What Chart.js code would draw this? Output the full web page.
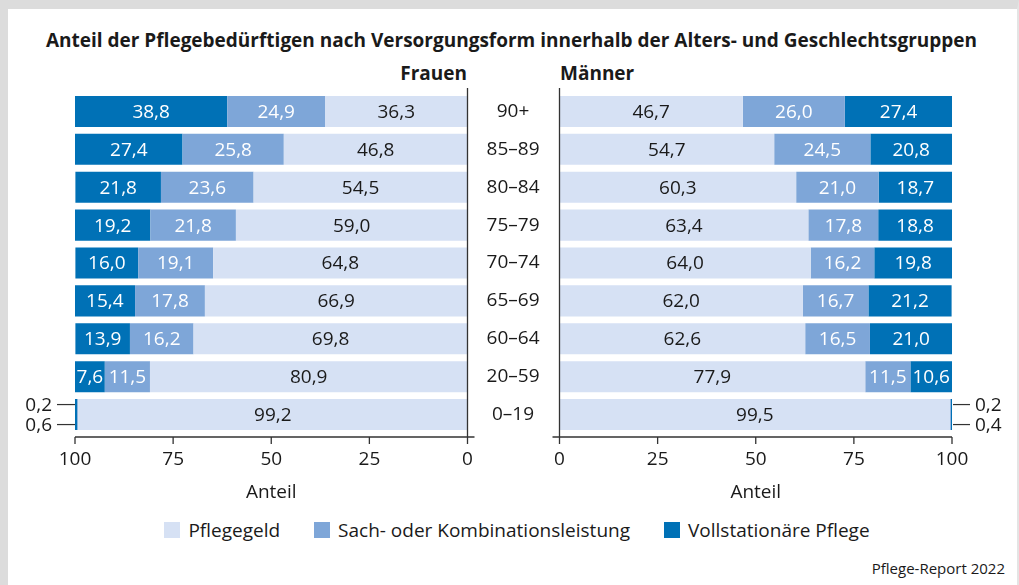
<!DOCTYPE html>
<html lang="de">
<head>
<meta charset="utf-8">
<script src="https://cdn.jsdelivr.net/npm/chart.js@4"></script>
<style>
  body { margin: 0; width: 1019px; height: 585px; position: relative; background: #fff; font-family: "Open Sans", "Noto Sans", sans-serif; color: #1a1a1a; overflow: hidden; }
  .frame { position: absolute; left: 0; top: 0; width: 1019px; height: 585px; box-sizing: border-box; border-top: 9px solid #dcdcdc; border-left: 8px solid #dcdcdc; border-right: 2px solid #e4e4e4; }
  canvas { position: absolute; top: 0; }
  #chartF { left: 0; }
  #chartM { left: 468px; }
  .title { position: absolute; left: 8px; width: 1007px; top: 28px; text-align: center; font-weight: 700; font-size: 19px; line-height: 24px; }
  .group { position: absolute; top: 61px; font-weight: 700; font-size: 19px; line-height: 24px; }
  #lblF { right: calc(1019px - 467px); }
  #lblM { left: 560px; }
  .legend { position: absolute; left: 0; width: 1034px; top: 518px; display: flex; justify-content: center; gap: 34px; font-size: 19px; line-height: 24px; }
  .legend span.item { display: flex; align-items: center; gap: 8px; }
  .legend i { display: inline-block; width: 16px; height: 16px; }
  .source { position: absolute; right: 14px; top: 558px; font-size: 15px; line-height: 20px; }
</style>
</head>
<body>
<div class="frame"></div>
<div class="title">Anteil der Pflegebedürftigen nach Versorgungsform innerhalb der Alters- und Geschlechtsgruppen</div>
<div class="group" id="lblF">Frauen</div>
<div class="group" id="lblM">Männer</div>
<canvas id="chartF" width="500" height="510"></canvas>
<canvas id="chartM" width="551" height="510"></canvas>
<div class="legend" id="legend"></div>
<div class="source">Pflege-Report 2022</div>
<script>
const ageGroups = ['90+', '85–89', '80–84', '75–79', '70–74', '65–69', '60–64', '20–59', '0–19'];
const seriesNames = ['Pflegegeld', 'Sach- oder Kombinationsleistung', 'Vollstationäre Pflege'];
const seriesColors = ['#d6e1f4', '#7ea6d8', '#0071b6'];

// Frauen
const frauenGeld = [36.3, 46.8, 54.5, 59.0, 64.8, 66.9, 69.8, 80.9, 99.2];
const frauenSach = [24.9, 25.8, 23.6, 21.8, 19.1, 17.8, 16.2, 11.5, 0.2];
const frauenVoll = [38.8, 27.4, 21.8, 19.2, 16.0, 15.4, 13.9, 7.6, 0.6];

// Männer
const maennerGeld = [46.7, 54.7, 60.3, 63.4, 64.0, 62.0, 62.6, 77.9, 99.5];
const maennerSach = [26.0, 24.5, 21.0, 17.8, 16.2, 16.7, 16.5, 11.5, 0.2];
const maennerVoll = [27.4, 20.8, 18.7, 18.8, 19.8, 21.2, 21.0, 10.6, 0.4];

const xTicks = [0, 25, 50, 75, 100];

const FONT = '"Open Sans", "Noto Sans", sans-serif';
const TEXT = '#1a1a1a';
const LINE = '#333';

const fmt = v => v.toFixed(1).replace('.', ',');

// axis lines, ticks and value labels
const decorations = {
    id: 'decorations',
    afterDatasetsDraw(chart) {
        const { ctx, scales: { x } } = chart;
        const side = chart.options.plugins.decorations.side;
        ctx.save();
        ctx.font = '19px ' + FONT;
        ctx.textBaseline = 'middle';
        chart.data.datasets.forEach((ds, i) => {
            const meta = chart.getDatasetMeta(i);
            meta.data.forEach((bar, j) => {
                const v = ds.data[j];
                if (v >= 3) {
                    ctx.fillStyle = i === 0 ? TEXT : '#fff';
                    ctx.textAlign = 'center';
                    ctx.fillText(fmt(v), (bar.x + bar.base) / 2, bar.y + 1);
                } else {
                    // small shares: callout outside the bar end
                    const edge = x.getPixelForValue(100);
                    const y = bar.y + (i === 1 ? -10 : 10);
                    ctx.strokeStyle = LINE;
                    ctx.lineWidth = 1.2;
                    ctx.beginPath();
                    if (side === 'left') {
                        ctx.moveTo(edge - 18, y); ctx.lineTo(edge, y);
                        ctx.stroke();
                        ctx.textAlign = 'right';
                        ctx.fillStyle = TEXT;
                        ctx.fillText(fmt(v), edge - 23, y + 1);
                    } else {
                        ctx.moveTo(edge + 1, y); ctx.lineTo(edge + 18, y);
                        ctx.stroke();
                        ctx.textAlign = 'left';
                        ctx.fillStyle = TEXT;
                        ctx.fillText(fmt(v), edge + 23, y + 1);
                    }
                }
            });
        });
        ctx.restore();
    },
    afterDraw(chart) {
        const { ctx, chartArea: a, scales: { x } } = chart;
        const side = chart.options.plugins.decorations.side;
        const x0 = x.getPixelForValue(0);
        const yb = a.bottom + 3.5;
        ctx.save();
        ctx.strokeStyle = LINE;
        ctx.lineWidth = 1.3;
        ctx.beginPath();
        ctx.moveTo(x0, a.top - 4.5);
        ctx.lineTo(x0, yb + 7);
        ctx.moveTo(x.getPixelForValue(100), yb);
        ctx.lineTo(x0 + (side === 'left' ? 7 : -7), yb);
        x.ticks.forEach(t => {
            const px = x.getPixelForValue(t.value);
            ctx.moveTo(px, yb);
            ctx.lineTo(px, yb + 7);
        });
        ctx.stroke();
        ctx.restore();
    }
};

function makeChart(id, values, side) {
    const datasets = values.map((data, i) => ({
        label: seriesNames[i],
        data: data,
        backgroundColor: seriesColors[i],
        borderWidth: 0,
        barPercentage: 0.82,
        categoryPercentage: 1
    }));
    return new Chart(document.getElementById(id), {
        type: 'bar',
        data: { labels: ageGroups, datasets },
        plugins: [decorations],
        options: {
            indexAxis: 'y',
            responsive: false,
            animation: false,
            layout: {
                padding: side === 'left'
                    ? { left: 75, right: 32.5, top: 92.5, bottom: 0 }
                    : { left: 0, right: 67, top: 92.5, bottom: 0 }
            },
            plugins: {
                legend: { display: false },
                tooltip: { enabled: false },
                decorations: { side }
            },
            scales: {
                x: {
                    stacked: true,
                    min: 0,
                    max: 100,
                    reverse: side === 'left',
                    afterBuildTicks: s => { s.ticks = xTicks.map(v => ({ value: v })); },
                    afterFit: s => { s.height = 76.5; },
                    grid: { display: false, drawTicks: false },
                    border: { display: false },
                    ticks: { font: { family: FONT, size: 19 }, color: TEXT, padding: 15, maxRotation: 0 },
                    title: {
                        display: true,
                        text: 'Anteil',
                        font: { family: FONT, size: 19 },
                        color: TEXT,
                        padding: { top: 0, bottom: 6 }
                    }
                },
                y: {
                    stacked: true,
                    display: side === 'right',
                    afterFit: s => { s.width = side === 'right' ? 91.5 : 0; },
                    grid: { display: false, drawTicks: false },
                    border: { display: false },
                    ticks: { font: { family: FONT, size: 19 }, color: TEXT, crossAlign: 'center', padding: 20 }
                }
            }
        }
    });
}

makeChart('chartF', [frauenGeld, frauenSach, frauenVoll], 'left');
makeChart('chartM', [maennerGeld, maennerSach, maennerVoll], 'right');

// legend
const legend = document.getElementById('legend');
seriesNames.forEach((name, i) => {
    const item = document.createElement('span');
    item.className = 'item';
    item.innerHTML = `<i style="background:${seriesColors[i]}"></i>${name}`;
    legend.appendChild(item);
});
</script>
</body>
</html>
